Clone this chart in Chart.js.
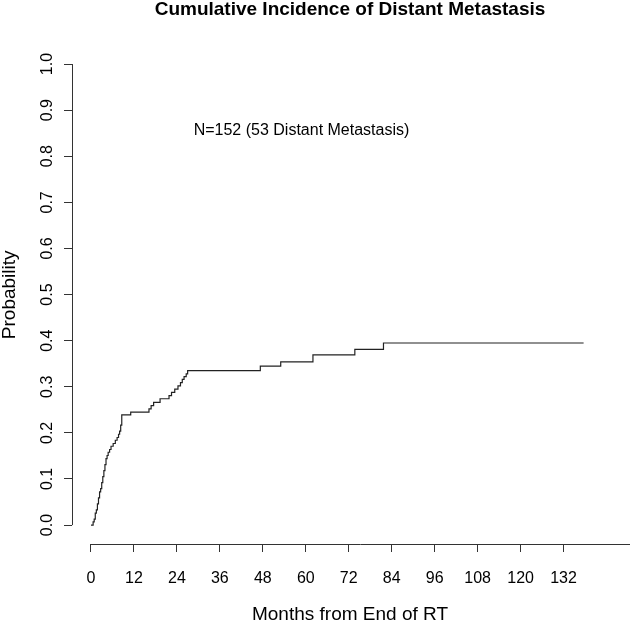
<!DOCTYPE html>
<html>
<head>
<meta charset="utf-8">
<script src="https://cdn.jsdelivr.net/npm/chart.js@4/dist/chart.umd.min.js"></script>
<style>
  body { margin: 0; background: #fff; }
  #wrap { width: 630px; height: 621px; }
</style>
</head>
<body>
<div id="wrap"><canvas id="cumIncChart"></canvas></div>
<script>
// step points: month of event, cumulative incidence after it
const months = [0, 0.6, 0.9, 1.2, 1.5, 1.8, 2.1, 2.4, 2.7, 3.0, 3.3, 3.6, 3.9, 4.2, 4.5, 4.8, 5.2, 5.6, 6.2, 6.8, 7.3, 7.7, 8.0, 8.3, 8.6,
  11.1, 16.2, 16.8, 17.5, 19.3, 21.8, 22.5, 23.4, 24.3, 25.0, 25.5, 26.0, 26.6, 27.0,
  47.3, 53.0, 62.0, 73.7, 81.7, 137.6];
const incidence = [0, 0.007, 0.013, 0.026, 0.033, 0.046, 0.059, 0.072, 0.079, 0.092, 0.105, 0.118, 0.131, 0.144, 0.151, 0.158, 0.164, 0.171, 0.177, 0.184, 0.190, 0.197, 0.204, 0.217, 0.239,
  0.245, 0.252, 0.259, 0.266, 0.274, 0.281, 0.288, 0.295, 0.302, 0.309, 0.316, 0.322, 0.328, 0.335,
  0.345, 0.354, 0.369, 0.381, 0.395, 0.395];

const xTicks = [0, 12, 24, 36, 48, 60, 72, 84, 96, 108, 120, 132];
const yTicks = [0, 0.1, 0.2, 0.3, 0.4, 0.5, 0.6, 0.7, 0.8, 0.9, 1.0];

const noteText = 'N=152 (53 Distant Metastasis)';

const FONT = "Arial, 'Liberation Sans', sans-serif";

// R style detached axes + the N= note
const rAxes = {
    id: 'rAxes',
    afterDraw: chart => {
        const ctx = chart.ctx;
        const x = chart.scales.x;
        const y = chart.scales.y;
        const area = chart.chartArea;
        ctx.save();
        ctx.strokeStyle = '#333';
        ctx.lineWidth = 1;
        ctx.beginPath();
        ctx.moveTo(area.left + 0.5, y.getPixelForValue(yTicks[0]));
        ctx.lineTo(area.left + 0.5, y.getPixelForValue(yTicks[yTicks.length - 1]));
        ctx.moveTo(x.getPixelForValue(xTicks[0]), area.bottom + 0.5);
        ctx.lineTo(chart.width, area.bottom + 0.5);
        ctx.stroke();

        ctx.fillStyle = '#000';
        ctx.font = '16px ' + FONT;
        ctx.textAlign = 'center';
        ctx.textBaseline = 'middle';
        ctx.fillText(noteText, x.getPixelForValue(58.8), y.getPixelForValue(0.855));
        ctx.restore();
    }
};

const dataCumInc = {
    datasets: [{
        label: 'Distant Metastasis',
        data: months.map((m, i) => ({ x: m, y: incidence[i] })),
        stepped: true,
        borderColor: '#222',
        borderWidth: 1.2,
        pointRadius: 0,
        fill: false
    }]
};

const configCumInc = {
    type: 'line',
    data: dataCumInc,
    plugins: [rAxes],
    options: {
        responsive: true,
        maintainAspectRatio: false,
        animation: false,
        layout: { padding: { left: 0, right: 2, top: 0, bottom: 0 } },
        plugins: {
            legend: { display: false },
            tooltip: { enabled: false },
            title: {
                display: true,
                text: 'Cumulative Incidence of Distant Metastasis',
                fullSize: false,
                color: '#000',
                font: { family: FONT, size: 19, weight: 'bold', lineHeight: 1 },
                padding: { top: 0, bottom: 26.6 }
            }
        },
        scales: {
            x: {
                type: 'linear',
                min: -5.3,
                max: 150,
                afterBuildTicks: s => { s.ticks = xTicks.map(v => ({ value: v })); },
                afterFit: s => { s.height = 77; },
                border: { display: false },
                grid: { drawOnChartArea: false, drawTicks: true, tickLength: 8, color: '#333' },
                ticks: {
                    autoSkip: false,
                    maxRotation: 0,
                    color: '#000',
                    padding: 17,
                    font: { family: FONT, size: 16 }
                },
                title: {
                    display: true,
                    text: 'Months from End of RT',
                    color: '#000',
                    font: { family: FONT, size: 19, lineHeight: 1 },
                    padding: { top: 0, bottom: -3 }
                }
            },
            y: {
                type: 'linear',
                min: -0.041,
                max: 1.04,
                afterBuildTicks: s => { s.ticks = yTicks.map(v => ({ value: v })); },
                afterFit: s => { s.width = 72; },
                border: { display: false },
                grid: { drawOnChartArea: false, drawTicks: true, tickLength: 8, color: '#333' },
                ticks: {
                    minRotation: 90,
                    maxRotation: 90,
                    crossAlign: 'center',
                    color: '#000',
                    padding: 5,
                    font: { family: FONT, size: 16 },
                    callback: v => v.toFixed(1)
                },
                title: {
                    display: true,
                    text: 'Probability',
                    color: '#000',
                    font: { family: FONT, size: 19, lineHeight: 1 },
                    padding: { top: 0, bottom: 0 }
                }
            }
        }
    }
};

new Chart(
    document.getElementById('cumIncChart'),
    configCumInc
);
</script>
</body>
</html>
